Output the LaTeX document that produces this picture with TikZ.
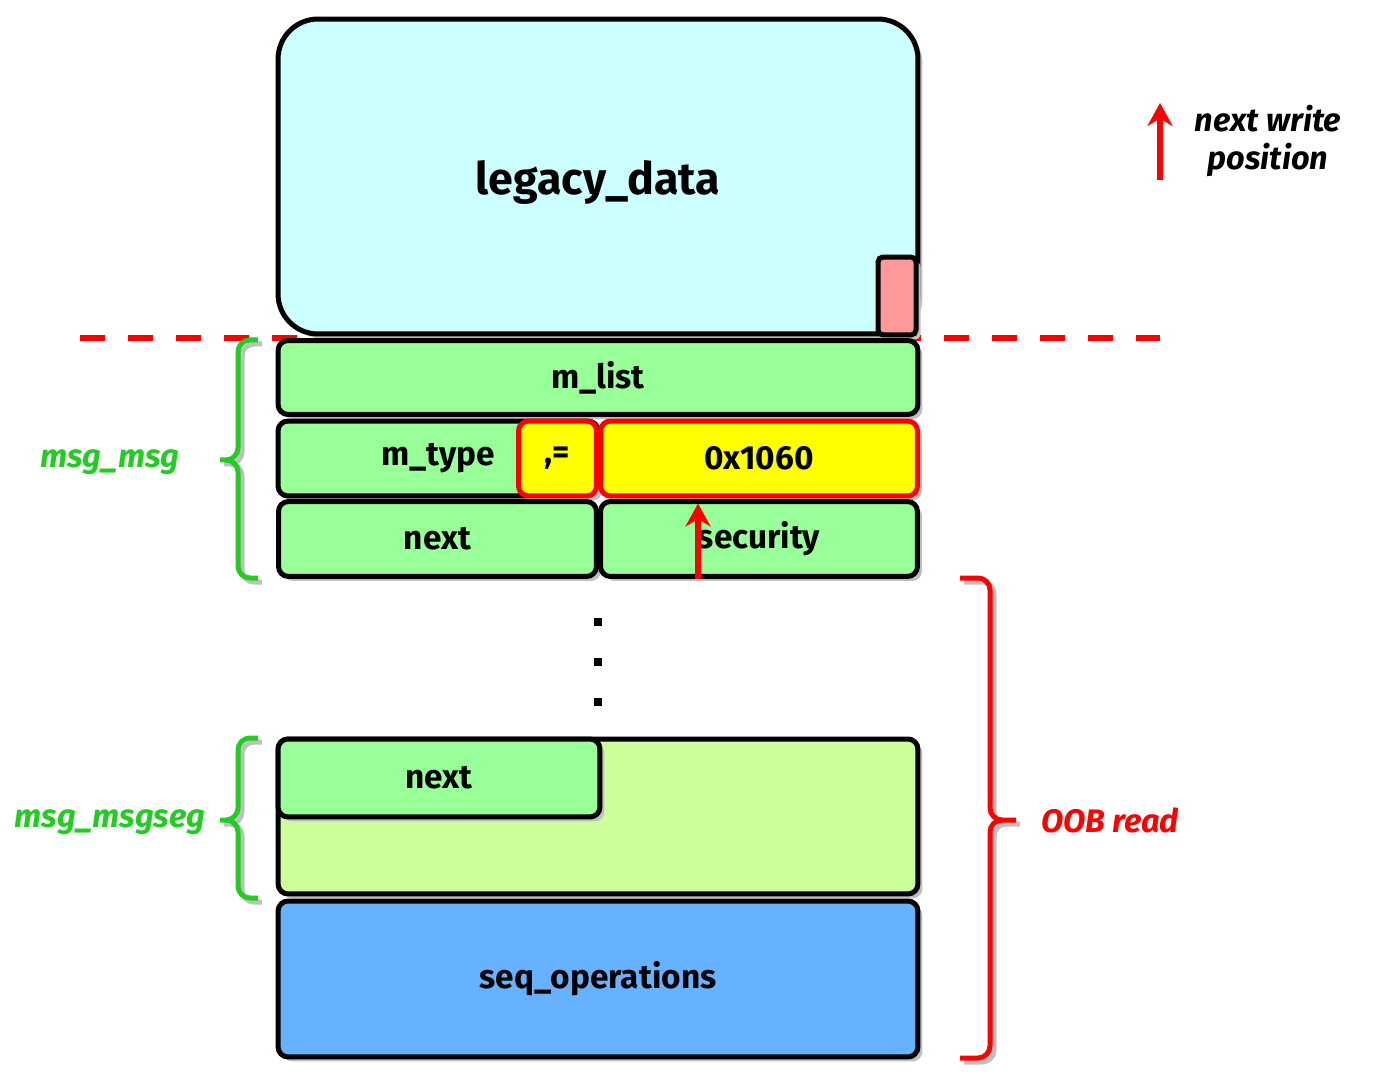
\documentclass[tikz,border=0pt]{standalone}
\usepackage{fontspec}
\setmainfont{Fira Sans}
\usepackage{xcolor}
\usepackage{tikz}
\usetikzlibrary{arrows.meta,calc,positioning,shadows}
\definecolor{cyanbg}{HTML}{CCFFFF}
\definecolor{pinkbg}{HTML}{FF9999}
\definecolor{fldgreen}{HTML}{99FF99}
\definecolor{seggreen}{HTML}{CCFF99}
\definecolor{seqblue}{HTML}{66B2FF}
\definecolor{hlyellow}{HTML}{FFFF00}
\definecolor{hlred}{HTML}{FF0000}
\definecolor{brgreen}{HTML}{22CC22}
% brace: colour, end x, stem x, tip x, top y, tip y, bottom y
\newcommand{\brc}[7]{%
  \foreach \cc/\dd in {black!25/4,#1/0}{
    \draw[\cc,line width=0.1cm,rounded corners=0.24cm,xshift=\dd*0.02cm,yshift=-\dd*0.02cm]
      (#2,#5) -| (#3,#6) -- (#4,#6)
      (#2,#7) -| (#3,#6) -- (#4,#6);
  }}

\begin{document}
\begin{tikzpicture}[x=0.02cm,y=-0.02cm,>=Stealth,
  fld/.style={draw=black,line width=0.1cm,rounded corners=0.2cm,fill=fldgreen,
    drop shadow={shadow xshift=0.09cm,shadow yshift=-0.09cm,fill=black!25,opacity=1},
    inner sep=0pt,text=black,font=\fontsize{19}{22}\selectfont\bfseries},
  hl/.style={fld,draw=hlred,fill=hlyellow},
  tag/.style={font=\fontsize{18.5}{22}\selectfont\bfseries\itshape,align=center},
  wr/.style={->,draw=hlred,line width=0.11cm,>={Stealth[length=0.46cm,width=0.5cm]}}]
\useasboundingbox (0,0) rectangle (1380,1084);

% limit of the old object
\draw[hlred,line width=0.12cm,dash pattern=on 0.5cm off 0.46cm] (80,338) -- (1160,338);

\node[fld,fill=cyanbg,rounded corners=0.8cm,minimum width=12.8cm,minimum height=6.3cm] (legacy) at (598,176.5) {};
\node[font=\fontsize{25.5}{28}\selectfont\bfseries] (lgname) at (598,182) {legacy\_data};
\node[fld,fill=pinkbg,rounded corners=0.1cm,minimum width=0.76cm,minimum height=1.56cm] (tail) at (897,296) {};

% msg_msg header
\node[fld,minimum width=12.8cm,minimum height=1.48cm] (mlist) at (598,377.5) {m\_list};
\node[fld,minimum width=6.4cm,minimum height=1.5cm] (mtype) at (438,458.5) {m\_type};
\node[hl,minimum width=1.56cm,minimum height=1.5cm] (cm) at (557.5,458.5) {,=};
\node[hl,minimum width=6.34cm,minimum height=1.5cm] (val) at (759,458.5) {0x1060};
\node[fld,minimum width=6.36cm,minimum height=1.5cm] (next1) at (437.5,539) {next};
\node[fld,minimum width=6.34cm,minimum height=1.5cm] (sec) at (759,539) {security};
\draw[wr] ([xshift=-1.22cm]sec.south) -- ([xshift=-1.22cm,yshift=-0.1cm]val.south);

\foreach \yy in {622,662,702}
  \node[fill=black,minimum size=0.16cm,inner sep=0pt] (dot\yy) at (598,\yy) {};

% msg_msgseg
\node[fld,fill=seggreen,minimum width=12.8cm,minimum height=3.1cm] (seg) at (598,816.5) {};
\node[fld,minimum width=6.44cm,minimum height=1.56cm] (next2) at (439,778) {next};
\node[fld,fill=seqblue,minimum width=12.8cm,minimum height=3.12cm] (seq) at (598,979) {seq\_operations};

% braces
\brc{brgreen}{258}{238}{220}{340}{460}{578}
\node[tag,text=brgreen] (lmsg) at (110,462) {msg\_msg};
\brc{brgreen}{258}{238}{220}{738}{820}{898}
\node[tag,text=brgreen] (lseg) at (110,822) {msg\_msgseg};
\brc{hlred}{960}{990}{1016}{578}{820}{1058}
\node[tag,text=hlred] (loob) at (1110,820) {OOB read};

% legend
\node[tag] (lgd) at (1268,141) {next write\\position};
\coordinate (lgt) at (1160,180);
\coordinate (lgh) at (1160,103);
\draw[wr] (lgt) -- (lgh);
\end{tikzpicture}
\end{document}
